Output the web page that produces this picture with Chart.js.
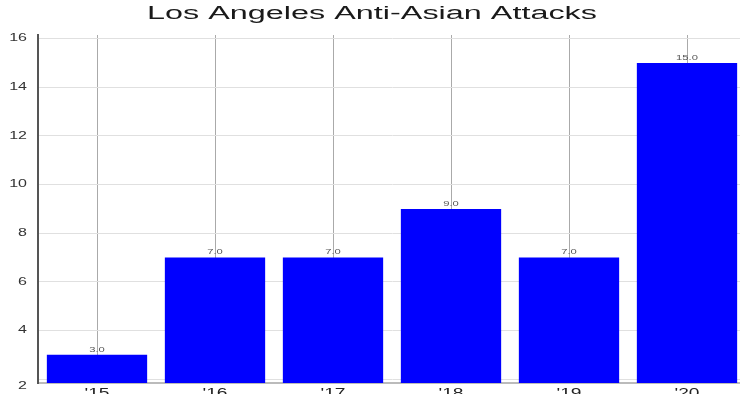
<!DOCTYPE html>
<html>
<head>
<meta charset="utf-8">
<script src="https://cdn.jsdelivr.net/npm/chart.js@4"></script>
<style>
  html, body { margin: 0; padding: 0; background: #fff; overflow: hidden; }
  #wrap { width: 746px; height: 403px; position: relative; }
</style>
</head>
<body>
<div id="wrap"><canvas id="attackChart"></canvas></div>
<script>
// Data
const years = ["'15", "'16", "'17", "'18", "'19", "'20"];
const attacks = [3, 7, 7, 9, 7, 15];
const yTicks = [2, 4, 6, 8, 10, 12, 14, 16];
const chartTitle = 'Los Angeles Anti-Asian Attacks';

// the original picture is stretched sideways, so text is drawn wider than tall
const STRETCH = 1.6;
const FONT = '"Liberation Sans", Arial, sans-serif';

function wideText(ctx, text, x, y, size, color, align) {
  ctx.save();
  ctx.font = size + 'px ' + FONT;
  ctx.fillStyle = color;
  ctx.textAlign = align;
  ctx.textBaseline = 'middle';
  ctx.translate(x, y);
  ctx.scale(STRETCH, 1);
  ctx.fillText(text, 0, 0);
  ctx.restore();
}

const wideLabels = {
  id: 'wideLabels',
  afterDraw(chart) {
    const ctx = chart.ctx;
    const xs = chart.scales.x;
    const ys = chart.scales.y;

    // title, stretched to the same span as the original
    ctx.save();
    ctx.font = '18px ' + FONT;
    const w = ctx.measureText(chartTitle).width;
    ctx.fillStyle = '#1a1a1a';
    ctx.textAlign = 'center';
    ctx.textBaseline = 'middle';
    ctx.translate(372, 14);
    ctx.scale(450 / w, 1);
    ctx.fillText(chartTitle, 0, 0);
    ctx.restore();

    // y tick labels (lowest one sits a little under its line in the original)
    ys.ticks.forEach((t, i) => {
      const y = ys.getPixelForTick(i) + (i === 0 ? 7 : 0);
      wideText(ctx, String(t.value), 27, y, 10, '#333', 'right');
    });

    // x tick labels (bottom of them is cut off by the window)
    years.forEach((label, i) => {
      wideText(ctx, label, xs.getPixelForTick(i), 394, 12, '#222', 'center');
    });

    // value labels above bars
    chart.getDatasetMeta(0).data.forEach((bar, i) => {
      wideText(ctx, attacks[i].toFixed(1), bar.x, bar.y - 5, 7, '#555', 'center');
    });
  }
};

const ctx = document.getElementById('attackChart').getContext('2d');
new Chart(ctx, {
  type: 'bar',
  data: {
    labels: years,
    datasets: [{
      data: attacks,
      backgroundColor: '#0000ff',
      borderWidth: 0,
      barPercentage: 0.85,
      categoryPercentage: 1.0
    }]
  },
  options: {
    responsive: true,
    maintainAspectRatio: false,
    animation: false,
    layout: { padding: { left: 1, right: 0, top: 35, bottom: 0 } },
    plugins: {
      legend: { display: false },
      tooltip: { enabled: false },
      title: { display: false }
    },
    scales: {
      x: {
        offset: true,
        afterFit(axis) { axis.height = 20; },
        grid: { offset: false, color: '#aaa', lineWidth: 1, drawTicks: false },
        border: { color: '#bbb', width: 2 },
        ticks: { color: 'rgba(0,0,0,0)', font: { size: 12 } }
      },
      y: {
        min: 1.84,
        max: 16.15,
        afterBuildTicks(axis) { axis.ticks = yTicks.map(v => ({ value: v })); },
        afterFit(axis) { axis.width = 37; },
        grid: { color: '#e0e0e0', lineWidth: 1, drawTicks: false },
        border: { color: '#555', width: 2 },
        ticks: { color: 'rgba(0,0,0,0)', font: { size: 10 } }
      }
    }
  },
  plugins: [wideLabels]
});
</script>
</body>
</html>
